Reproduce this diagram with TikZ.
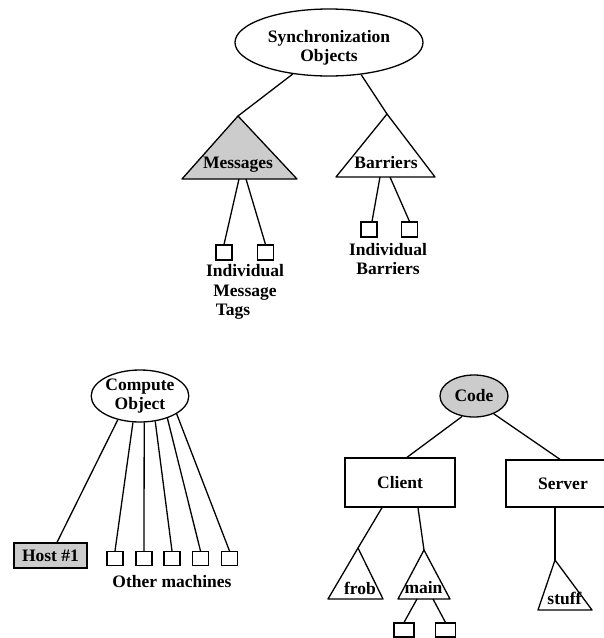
\documentclass[tikz,border=0pt]{standalone}
\usepackage{fontspec}
\setmainfont{Liberation Serif}
\usetikzlibrary{shapes.geometric}
\begin{document}
\begin{tikzpicture}[x=1pt,y=-1pt,
  txt/.style={font=\fontsize{17.5}{19.5}\selectfont\bfseries, inner sep=0pt, align=center},
  ln/.style={line width=1.3pt},
  ell/.style={draw, ellipse, line width=1.3pt, inner sep=0pt, txt},
  sbox/.style={draw, rectangle, line width=1.1pt, minimum width=16pt, minimum height=15pt, inner sep=0pt},
  bigbox/.style={draw, rectangle, line width=1.3pt, inner sep=0pt, txt},
  tri/.style={draw, line width=1.3pt, line join=round},
  shade/.style={fill=black!20}]
\clip (0,0) rectangle (604,638);

% ---------- Synchronization Objects ----------
\node[ell, minimum width=188pt, minimum height=67pt] (sync) at (329,42.5) {};
\node[txt] (synct) at (329,48) {Synchronization\\Objects};

\coordinate (msgA) at (238,116);
\coordinate (msgBL) at (182,179);
\coordinate (msgBR) at (297,179);
\draw[tri, shade] (msgA) -- (msgBL) -- (msgBR) -- cycle;
\node[txt] (msgt) at (238,165) {Messages};

\coordinate (barA) at (387,114);
\coordinate (barBL) at (336,177);
\coordinate (barBR) at (435,177);
\draw[tri] (barA) -- (barBL) -- (barBR) -- cycle;
\node[txt] (bart) at (386,163) {Barriers};

\draw[ln] (sync.221) -- (msgA);
\draw[ln] (sync.-45) -- (barA);

\coordinate (msgc1) at (239,179);
\coordinate (msgc2) at (246,179);
\node[sbox] (m1) at (224,252.5) {};
\node[sbox] (m2) at (265.5,252.5) {};
\draw[ln] (msgc1) -- (m1.north);
\draw[ln] (msgc2) -- (m2.north);
\node[txt] (mtags) at (245,292) {Individual\\Message\\Tags\hspace*{24pt}};

\coordinate (barc1) at (380,177);
\coordinate (barc2) at (390,177);
\node[sbox] (b1) at (369,229.5) {};
\node[sbox] (b2) at (409.5,229.5) {};
\draw[ln] (barc1) -- ([xshift=3pt]b1.north);
\draw[ln] (barc2) -- (b2.north);
\node[txt] (bint) at (388,259) {Individual\\Barriers};

% ---------- Compute Object ----------
\node[ell, minimum width=90pt, minimum height=52pt] (comp) at (140,396) {Compute\\Object};
\node[bigbox, shade, minimum width=73pt, minimum height=25pt] (host) at (50.5,555.5) {Host \#1};
\node[sbox, minimum height=14pt] (c1) at (115,558.5) {};
\node[sbox, minimum height=14pt] (c2) at (144,558.5) {};
\node[sbox, minimum height=14pt] (c3) at (172,558.5) {};
\node[sbox, minimum height=14pt] (c4) at (200.5,558.5) {};
\node[sbox, minimum height=14pt] (c5) at (229.5,558.5) {};
\node[txt] (other) at (172,582) {Other machines};
\draw[ln] (comp.227) -- ([xshift=6.5pt]host.north);
\draw[ln] (comp.255) -- (c1.north);
\draw[ln] (comp.279) -- (c2.north);
\draw[ln] (comp.301) -- (c3.north);
\draw[ln] (comp.321) -- (c4.north);
\draw[ln] (comp.334) -- (c5.north);

% ---------- Code ----------
\node[ell, shade, minimum width=68pt, minimum height=42pt] (code) at (474,396) {Code};
\node[bigbox, minimum width=110pt, minimum height=49pt] (client) at (400,482.5) {Client};
\node[bigbox, minimum width=114pt, minimum height=47pt] (server) at (563,483.5) {Server};
\draw[ln] (code.240) -- ([xshift=7pt]client.north);
\draw[ln] (code.318) -- ([xshift=-3pt]server.north);

\coordinate (frobA) at (358,548);
\coordinate (frobBL) at (328,599);
\coordinate (frobBR) at (383,599);
\draw[tri] (frobA) -- (frobBL) -- (frobBR) -- cycle;
\node[txt] (frobt) at (360,588) {frob};

\coordinate (mainA) at (424,550);
\coordinate (mainBL) at (398,599);
\coordinate (mainBR) at (450,599);
\draw[tri] (mainA) -- (mainBL) -- (mainBR) -- cycle;
\node[txt] (maint) at (423.5,588) {main};

\coordinate (stuffA) at (555,560);
\coordinate (stuffBL) at (538,610);
\coordinate (stuffBR) at (592,610);
\draw[tri] (stuffA) -- (stuffBL) -- (stuffBR) -- cycle;
\node[txt] (stufft) at (564.5,598) {stuff};

\draw[ln] ([xshift=-18pt]client.south) -- (frobA);
\draw[ln] ([xshift=18pt]client.south) -- (mainA);
\draw[ln] ([xshift=-8pt]server.south) -- (stuffA);

\coordinate (mainc1) at (417,599);
\coordinate (mainc2) at (433,599);
\node[sbox, minimum width=20pt, minimum height=14pt] (mb1) at (404,630) {};
\node[sbox, minimum width=20pt, minimum height=14pt] (mb2) at (445.5,630) {};
\draw[ln] (mainc1) -- (mb1.north);
\draw[ln] (mainc2) -- (mb2.north);
\end{tikzpicture}
\end{document}
